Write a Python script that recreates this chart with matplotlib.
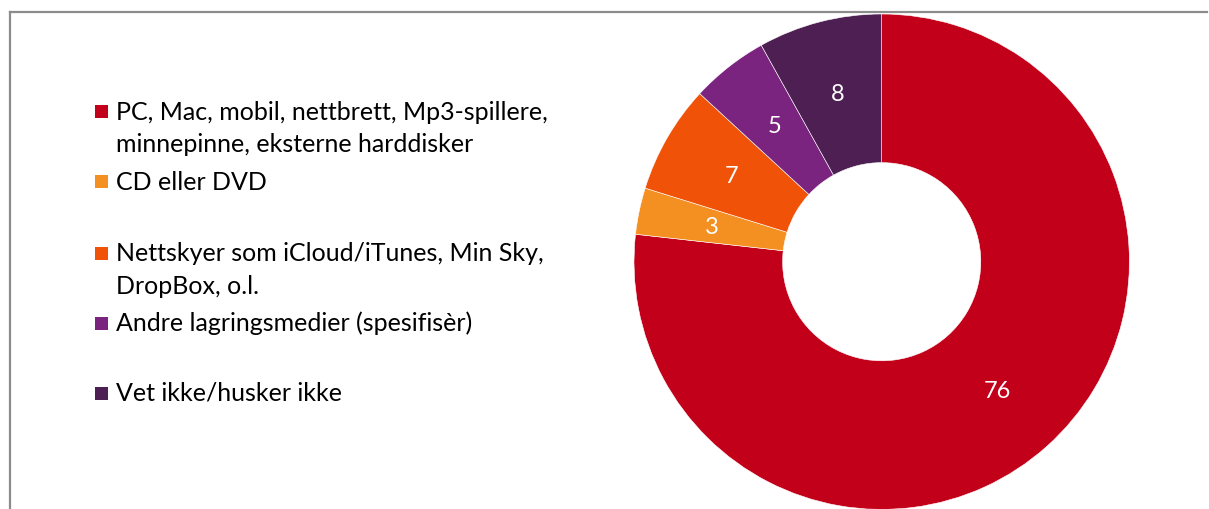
import matplotlib
matplotlib.use("Agg")
import matplotlib.pyplot as plt
from matplotlib.lines import Line2D
from matplotlib.patches import Rectangle

categories = [
    "PC, Mac, mobil, nettbrett, Mp3-spillere,\nminnepinne, eksterne harddisker",
    "CD eller DVD",
    "Nettskyer som iCloud/iTunes, Min Sky,\nDropBox, o.l.",
    "Andre lagringsmedier (spesifisèr)",
    "Vet ikke/husker ikke",
]
values = [76, 3, 7, 5, 8]
colors = ["#C3001A", "#F39021", "#F05208", "#7A247F", "#4E1F53"]

W, H = 1209, 510
fig = plt.figure(figsize=(W / 100, H / 100), dpi=100)
plt.rcParams['font.family'] = ['Lato', 'DejaVu Sans']

# donut axes: center (881.7, 262.7) px from top, radius 247.7 px
cx, cy, r = 881.7, 262.7, 247.7
ax = fig.add_axes([(cx - r) / W, (H - cy - r) / H, 2 * r / W, 2 * r / H])
total = sum(values)
wedges, texts, autotexts = ax.pie(
    values, colors=colors, startangle=90, counterclock=False,
    wedgeprops=dict(width=0.6, edgecolor="white", linewidth=0.4),
    autopct=lambda p: f"{round(p * total / 100):d}", pctdistance=0.7,
    textprops=dict(color="white", fontsize=17),
)
ax.set_xlim(-1, 1)
ax.set_ylim(-1, 1)
ax.set_aspect('auto')
for w in wedges:
    w.set_clip_on(False)

# legend (manual, Excel-like)
def fy(y):
    return 1 - y / H

marker_y = [112.5, 182.5, 254, 324, 394]
for lab, col, my in zip(categories, colors, marker_y):
    fig.add_artist(Rectangle((95 / W, fy(my + 6.5)), 13 / W, 13 / H,
                             transform=fig.transFigure, facecolor=col, edgecolor="none"))
    for k, line in enumerate(lab.split("\n")):
        fig.text(116 / W, fy(my + 7 + 33 * k), line, ha="left", va="baseline",
                 fontsize=18, color="#000000")

# border
gray = "#8C8C8C"
fig.add_artist(Line2D([10 / W, 10 / W], [fy(12.5), -0.1], transform=fig.transFigure, color=gray, lw=1.6))
fig.add_artist(Line2D([10 / W, 1207 / W], [fy(12.5), fy(12.5)], transform=fig.transFigure, color=gray, lw=1.6))

fig.savefig("out.png", dpi=100)
